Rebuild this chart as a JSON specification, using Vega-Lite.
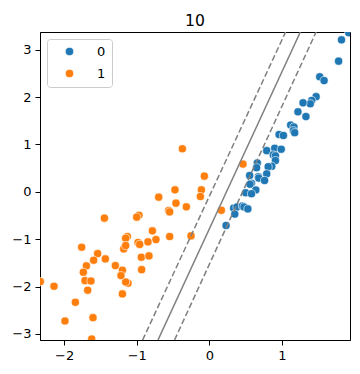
{
  "$schema": "https://vega.github.io/schema/vega-lite/v6.json",
  "width": 310,
  "height": 308,
  "autosize": {"type": "none"},
  "padding": {"left": 40, "top": 32, "right": 10, "bottom": 34},
  "title": {"text": "10", "fontSize": 15.6, "font": "DejaVu Sans", "fontWeight": "normal", "color": "black", "offset": 2},
  "config": {
    "view": {"stroke": "black", "strokeWidth": 1},
    "axis": {
      "grid": false, "domainColor": "black", "tickColor": "black", "labelColor": "black",
      "labelFont": "DejaVu Sans", "labelFontSize": 13, "tickSize": 5, "labelPadding": 4, "title": null
    },
    "legend": {"labelFont": "DejaVu Sans", "labelFontSize": 13, "labelColor": "black"}
  },
  "datasets": {
    "points": [
      {"x": 1.92, "y": 3.36, "label": "0"},
      {"x": 1.82, "y": 3.21, "label": "0"},
      {"x": 1.78, "y": 2.76, "label": "0"},
      {"x": 1.52, "y": 2.43, "label": "0"},
      {"x": 1.58, "y": 2.35, "label": "0"},
      {"x": 1.47, "y": 2.01, "label": "0"},
      {"x": 1.41, "y": 1.93, "label": "0"},
      {"x": 1.39, "y": 1.86, "label": "0"},
      {"x": 1.29, "y": 1.88, "label": "0"},
      {"x": 1.22, "y": 1.69, "label": "0"},
      {"x": 1.33, "y": 1.59, "label": "0"},
      {"x": 1.12, "y": 1.41, "label": "0"},
      {"x": 1.165, "y": 1.37, "label": "0"},
      {"x": 1.157, "y": 1.29, "label": "0"},
      {"x": 1.175, "y": 1.25, "label": "0"},
      {"x": 0.96, "y": 1.21, "label": "0"},
      {"x": 1.02, "y": 1.19, "label": "0"},
      {"x": 0.79, "y": 0.87, "label": "0"},
      {"x": 0.9, "y": 0.92, "label": "0"},
      {"x": 0.99, "y": 0.9, "label": "0"},
      {"x": 0.88, "y": 0.78, "label": "0"},
      {"x": 0.91, "y": 0.76, "label": "0"},
      {"x": 0.91, "y": 0.66, "label": "0"},
      {"x": 0.66, "y": 0.61, "label": "0"},
      {"x": 0.86, "y": 0.54, "label": "0"},
      {"x": 0.81, "y": 0.53, "label": "0"},
      {"x": 0.65, "y": 0.51, "label": "0"},
      {"x": 0.79, "y": 0.38, "label": "0"},
      {"x": 0.555, "y": 0.345, "label": "0"},
      {"x": 0.675, "y": 0.32, "label": "0"},
      {"x": 0.68, "y": 0.29, "label": "0"},
      {"x": 0.76, "y": 0.24, "label": "0"},
      {"x": 0.58, "y": 0.18, "label": "0"},
      {"x": 0.56, "y": 0.16, "label": "0"},
      {"x": 0.64, "y": 0.04, "label": "0"},
      {"x": 0.5, "y": -0.02, "label": "0"},
      {"x": 0.58, "y": -0.04, "label": "0"},
      {"x": 0.335, "y": -0.345, "label": "0"},
      {"x": 0.38, "y": -0.32, "label": "0"},
      {"x": 0.455, "y": -0.3, "label": "0"},
      {"x": 0.477, "y": -0.32, "label": "0"},
      {"x": 0.53, "y": -0.36, "label": "0"},
      {"x": 0.35, "y": -0.47, "label": "0"},
      {"x": 0.23, "y": -0.71, "label": "0"},
      {"x": -0.372, "y": 0.909, "label": "1"},
      {"x": 0.463, "y": 0.586, "label": "1"},
      {"x": -0.069, "y": 0.332, "label": "1"},
      {"x": -0.474, "y": 0.042, "label": "1"},
      {"x": -0.11, "y": 0.042, "label": "1"},
      {"x": -0.124, "y": -0.099, "label": "1"},
      {"x": -0.698, "y": -0.112, "label": "1"},
      {"x": -0.46, "y": -0.239, "label": "1"},
      {"x": -0.317, "y": -0.317, "label": "1"},
      {"x": -0.561, "y": -0.395, "label": "1"},
      {"x": -0.547, "y": -0.423, "label": "1"},
      {"x": -0.97, "y": -0.493, "label": "1"},
      {"x": -1.001, "y": -0.535, "label": "1"},
      {"x": 0.165, "y": -0.39, "label": "1"},
      {"x": -0.785, "y": -0.824, "label": "1"},
      {"x": -0.736, "y": -1.008, "label": "1"},
      {"x": -1.13, "y": -0.944, "label": "1"},
      {"x": -1.153, "y": -0.98, "label": "1"},
      {"x": -0.983, "y": -1.07, "label": "1"},
      {"x": -0.96, "y": -1.11, "label": "1"},
      {"x": -0.846, "y": -1.057, "label": "1"},
      {"x": -0.547, "y": -0.944, "label": "1"},
      {"x": -0.253, "y": -0.93, "label": "1"},
      {"x": -0.937, "y": -1.381, "label": "1"},
      {"x": -0.832, "y": -1.353, "label": "1"},
      {"x": -0.933, "y": -1.643, "label": "1"},
      {"x": -1.121, "y": -1.93, "label": "1"},
      {"x": -1.153, "y": -1.903, "label": "1"},
      {"x": -1.759, "y": -1.169, "label": "1"},
      {"x": -1.539, "y": -1.304, "label": "1"},
      {"x": -1.594, "y": -1.444, "label": "1"},
      {"x": -1.433, "y": -1.416, "label": "1"},
      {"x": -1.694, "y": -1.564, "label": "1"},
      {"x": -1.736, "y": -1.698, "label": "1"},
      {"x": -1.295, "y": -1.558, "label": "1"},
      {"x": -1.198, "y": -1.655, "label": "1"},
      {"x": -1.218, "y": -1.769, "label": "1"},
      {"x": -1.713, "y": -1.875, "label": "1"},
      {"x": -1.631, "y": -1.882, "label": "1"},
      {"x": -2.328, "y": -1.896, "label": "1"},
      {"x": -2.14, "y": -1.994, "label": "1"},
      {"x": -1.676, "y": -2.078, "label": "1"},
      {"x": -1.198, "y": -2.156, "label": "1"},
      {"x": -1.846, "y": -2.332, "label": "1"},
      {"x": -1.989, "y": -2.727, "label": "1"},
      {"x": -1.603, "y": -2.657, "label": "1"},
      {"x": -1.621, "y": -3.108, "label": "1"},
      {"x": -1.18, "y": -1.205, "label": "1"},
      {"x": -1.153, "y": -1.135, "label": "1"},
      {"x": -1.446, "y": -0.556, "label": "1"}
    ],
    "solid": [
      {"x": -0.708, "y": -3.13},
      {"x": 1.253, "y": 3.376}
    ],
    "dashed": [
      {"grp": "lo", "x": -0.92, "y": -3.13},
      {"grp": "lo", "x": 1.05, "y": 3.376},
      {"grp": "hi", "x": -0.48, "y": -3.13},
      {"grp": "hi", "x": 1.47, "y": 3.376}
    ]
  },
  "layer": [
    {
      "data": {"name": "points"},
      "mark": {"type": "circle", "size": 66, "opacity": 1, "stroke": "white", "strokeWidth": 0.6, "clip": true},
      "encoding": {
        "x": {"field": "x", "type": "quantitative", "scale": {"domain": [-2.333, 1.937], "nice": false, "zero": false}, "axis": {"values": [-2, -1, 0, 1], "format": "d"}},
        "y": {"field": "y", "type": "quantitative", "scale": {"domain": [-3.129, 3.376], "nice": false, "zero": false}, "axis": {"values": [-3, -2, -1, 0, 1, 2, 3], "format": "d"}},
        "color": {
          "field": "label", "type": "nominal",
          "scale": {"domain": ["0", "1"], "range": ["#1f77b4", "#ff7f0e"]},
          "legend": {
            "title": null, "orient": "none", "legendX": 7, "legendY": 7,
            "padding": 6, "symbolOffset": 10, "labelOffset": 21, "rowPadding": 8,
            "symbolType": "circle", "symbolSize": 66, "symbolStrokeColor": "white", "symbolStrokeWidth": 0.5,
            "strokeColor": "#cccccc", "cornerRadius": 3, "fillColor": "rgba(255,255,255,0.8)"
          }
        }
      }
    },
    {
      "data": {"name": "solid"},
      "mark": {"type": "line", "color": "#808080", "strokeWidth": 1.5, "clip": true},
      "encoding": {
        "x": {"field": "x", "type": "quantitative"},
        "y": {"field": "y", "type": "quantitative"}
      }
    },
    {
      "data": {"name": "dashed"},
      "mark": {"type": "line", "color": "#808080", "strokeWidth": 1.5, "strokeDash": [6, 2.8], "clip": true},
      "encoding": {
        "x": {"field": "x", "type": "quantitative"},
        "y": {"field": "y", "type": "quantitative"},
        "detail": {"field": "grp", "type": "nominal"}
      }
    }
  ]
}
